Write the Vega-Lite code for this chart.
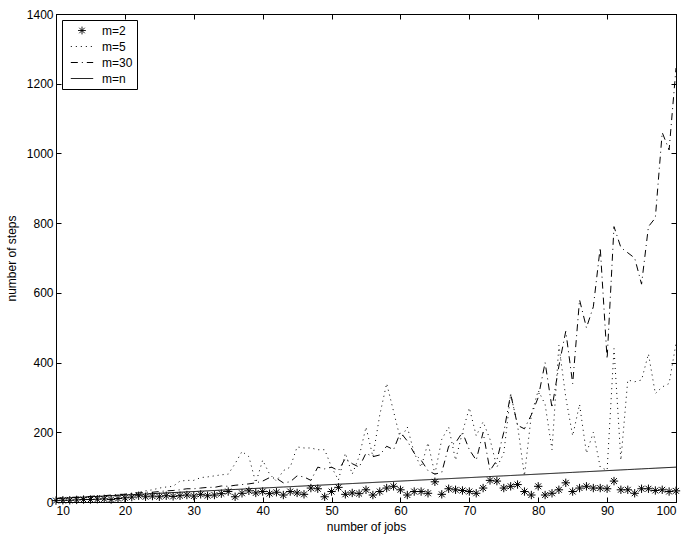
{
  "$schema": "https://vega.github.io/schema/vega-lite/v6.json",
  "width": 620,
  "height": 488,
  "autosize": {"type": "none"},
  "padding": {"left": 56, "top": 14, "right": 16, "bottom": 37},
  "background": "white",
  "config": {
    "font": "Liberation Sans",
    "view": {"stroke": "black", "strokeWidth": 1},
    "axis": {
      "grid": false,
      "domainColor": "black",
      "tickColor": "black",
      "labelColor": "black",
      "titleColor": "black",
      "labelFontSize": 12,
      "titleFontSize": 12,
      "titleFontWeight": "normal",
      "tickSize": -5,
      "labelPadding": 9,
      "format": "d"
    },
    "legend": {
      "labelFontSize": 12,
      "labelColor": "black"
    }
  },
  "data": {
    "values": [
      {"n": 10, "m=2": 4, "m=5": 8, "m=30": 10, "m=n": 10},
      {"n": 11, "m=2": 5, "m=5": 9, "m=30": 12, "m=n": 11},
      {"n": 12, "m=2": 5, "m=5": 10, "m=30": 13, "m=n": 12},
      {"n": 13, "m=2": 6, "m=5": 11, "m=30": 14, "m=n": 13},
      {"n": 14, "m=2": 7, "m=5": 12, "m=30": 15, "m=n": 14},
      {"n": 15, "m=2": 7, "m=5": 13, "m=30": 16, "m=n": 15},
      {"n": 16, "m=2": 8, "m=5": 14, "m=30": 18, "m=n": 16},
      {"n": 17, "m=2": 9, "m=5": 16, "m=30": 18, "m=n": 17},
      {"n": 18, "m=2": 7, "m=5": 18, "m=30": 20, "m=n": 18},
      {"n": 19, "m=2": 10, "m=5": 20, "m=30": 22, "m=n": 19},
      {"n": 20, "m=2": 12, "m=5": 22, "m=30": 22, "m=n": 20},
      {"n": 21, "m=2": 14, "m=5": 25, "m=30": 25, "m=n": 21},
      {"n": 22, "m=2": 18, "m=5": 28, "m=30": 26, "m=n": 22},
      {"n": 23, "m=2": 15, "m=5": 32, "m=30": 28, "m=n": 23},
      {"n": 24, "m=2": 17, "m=5": 35, "m=30": 28, "m=n": 24},
      {"n": 25, "m=2": 15, "m=5": 40, "m=30": 30, "m=n": 25},
      {"n": 26, "m=2": 18, "m=5": 43, "m=30": 32, "m=n": 26},
      {"n": 27, "m=2": 16, "m=5": 45, "m=30": 33, "m=n": 27},
      {"n": 28, "m=2": 18, "m=5": 60, "m=30": 35, "m=n": 28},
      {"n": 29, "m=2": 20, "m=5": 62, "m=30": 38, "m=n": 29},
      {"n": 30, "m=2": 17, "m=5": 62, "m=30": 38, "m=n": 30},
      {"n": 31, "m=2": 22, "m=5": 70, "m=30": 40, "m=n": 31},
      {"n": 32, "m=2": 18, "m=5": 72, "m=30": 42, "m=n": 32},
      {"n": 33, "m=2": 20, "m=5": 75, "m=30": 42, "m=n": 33},
      {"n": 34, "m=2": 24, "m=5": 78, "m=30": 46, "m=n": 34},
      {"n": 35, "m=2": 30, "m=5": 80, "m=30": 45, "m=n": 35},
      {"n": 36, "m=2": 15, "m=5": 110, "m=30": 48, "m=n": 36},
      {"n": 37, "m=2": 25, "m=5": 145, "m=30": 50, "m=n": 37},
      {"n": 38, "m=2": 32, "m=5": 130, "m=30": 52, "m=n": 38},
      {"n": 39, "m=2": 26, "m=5": 55, "m=30": 55, "m=n": 39},
      {"n": 40, "m=2": 30, "m=5": 120, "m=30": 60, "m=n": 40},
      {"n": 41, "m=2": 24, "m=5": 80, "m=30": 70, "m=n": 41},
      {"n": 42, "m=2": 28, "m=5": 60, "m=30": 68, "m=n": 42},
      {"n": 43, "m=2": 20, "m=5": 90, "m=30": 55, "m=n": 43},
      {"n": 44, "m=2": 30, "m=5": 100, "m=30": 58, "m=n": 44},
      {"n": 45, "m=2": 26, "m=5": 158, "m=30": 75, "m=n": 45},
      {"n": 46, "m=2": 22, "m=5": 155, "m=30": 72, "m=n": 46},
      {"n": 47, "m=2": 40, "m=5": 155, "m=30": 62, "m=n": 47},
      {"n": 48, "m=2": 38, "m=5": 150, "m=30": 100, "m=n": 48},
      {"n": 49, "m=2": 15, "m=5": 150, "m=30": 95, "m=n": 49},
      {"n": 50, "m=2": 30, "m=5": 100, "m=30": 100, "m=n": 50},
      {"n": 51, "m=2": 42, "m=5": 63, "m=30": 90, "m=n": 51},
      {"n": 52, "m=2": 22, "m=5": 140, "m=30": 125, "m=n": 52},
      {"n": 53, "m=2": 26, "m=5": 80, "m=30": 110, "m=n": 53},
      {"n": 54, "m=2": 24, "m=5": 130, "m=30": 100, "m=n": 54},
      {"n": 55, "m=2": 35, "m=5": 215, "m=30": 140, "m=n": 55},
      {"n": 56, "m=2": 20, "m=5": 130, "m=30": 130, "m=n": 56},
      {"n": 57, "m=2": 30, "m=5": 250, "m=30": 135, "m=n": 57},
      {"n": 58, "m=2": 40, "m=5": 340, "m=30": 160, "m=n": 58},
      {"n": 59, "m=2": 45, "m=5": 260, "m=30": 150, "m=n": 59},
      {"n": 60, "m=2": 35, "m=5": 180, "m=30": 200, "m=n": 60},
      {"n": 61, "m=2": 20, "m=5": 215, "m=30": 175, "m=n": 61},
      {"n": 62, "m=2": 30, "m=5": 140, "m=30": 140, "m=n": 62},
      {"n": 63, "m=2": 30, "m=5": 100, "m=30": 120, "m=n": 63},
      {"n": 64, "m=2": 25, "m=5": 170, "m=30": 90, "m=n": 64},
      {"n": 65, "m=2": 58, "m=5": 80, "m=30": 80, "m=n": 65},
      {"n": 66, "m=2": 22, "m=5": 180, "m=30": 85, "m=n": 66},
      {"n": 67, "m=2": 38, "m=5": 215, "m=30": 160, "m=n": 67},
      {"n": 68, "m=2": 35, "m=5": 120, "m=30": 170, "m=n": 68},
      {"n": 69, "m=2": 33, "m=5": 200, "m=30": 200, "m=n": 69},
      {"n": 70, "m=2": 30, "m=5": 270, "m=30": 150, "m=n": 70},
      {"n": 71, "m=2": 25, "m=5": 190, "m=30": 120, "m=n": 71},
      {"n": 72, "m=2": 40, "m=5": 230, "m=30": 200, "m=n": 72},
      {"n": 73, "m=2": 62, "m=5": 180, "m=30": 90, "m=n": 73},
      {"n": 74, "m=2": 60, "m=5": 100, "m=30": 120, "m=n": 74},
      {"n": 75, "m=2": 40, "m=5": 140, "m=30": 200, "m=n": 75},
      {"n": 76, "m=2": 45, "m=5": 310, "m=30": 310, "m=n": 76},
      {"n": 77, "m=2": 50, "m=5": 220, "m=30": 220, "m=n": 77},
      {"n": 78, "m=2": 30, "m=5": 75, "m=30": 210, "m=n": 78},
      {"n": 79, "m=2": 20, "m=5": 250, "m=30": 250, "m=n": 79},
      {"n": 80, "m=2": 45, "m=5": 320, "m=30": 300, "m=n": 80},
      {"n": 81, "m=2": 20, "m=5": 280, "m=30": 400, "m=n": 81},
      {"n": 82, "m=2": 25, "m=5": 150, "m=30": 270, "m=n": 82},
      {"n": 83, "m=2": 35, "m=5": 450, "m=30": 390, "m=n": 83},
      {"n": 84, "m=2": 55, "m=5": 300, "m=30": 490, "m=n": 84},
      {"n": 85, "m=2": 30, "m=5": 190, "m=30": 340, "m=n": 85},
      {"n": 86, "m=2": 40, "m=5": 280, "m=30": 580, "m=n": 86},
      {"n": 87, "m=2": 45, "m=5": 140, "m=30": 500, "m=n": 87},
      {"n": 88, "m=2": 40, "m=5": 200, "m=30": 560, "m=n": 88},
      {"n": 89, "m=2": 40, "m=5": 100, "m=30": 730, "m=n": 89},
      {"n": 90, "m=2": 38, "m=5": 91, "m=30": 410, "m=n": 90},
      {"n": 91, "m=2": 60, "m=5": 440, "m=30": 790, "m=n": 91},
      {"n": 92, "m=2": 35, "m=5": 120, "m=30": 730, "m=n": 92},
      {"n": 93, "m=2": 35, "m=5": 350, "m=30": 715, "m=n": 93},
      {"n": 94, "m=2": 25, "m=5": 345, "m=30": 700, "m=n": 94},
      {"n": 95, "m=2": 38, "m=5": 350, "m=30": 625, "m=n": 95},
      {"n": 96, "m=2": 38, "m=5": 425, "m=30": 790, "m=n": 96},
      {"n": 97, "m=2": 33, "m=5": 311, "m=30": 815, "m=n": 97},
      {"n": 98, "m=2": 35, "m=5": 330, "m=30": 1060, "m=n": 98},
      {"n": 99, "m=2": 30, "m=5": 340, "m=30": 1010, "m=n": 99},
      {"n": 100, "m=2": 32, "m=5": 455, "m=30": 1245, "m=n": 100}
    ]
  },
  "transform": [{"fold": ["m=2", "m=5", "m=30", "m=n"], "as": ["series", "v"]}],
  "resolve": {"axis": {"x": "independent", "y": "independent"}},
  "layer": [
    {
      "transform": [{"filter": "datum.series !== 'm=2'"}],
      "mark": {"type": "line", "color": "black", "strokeWidth": 1},
      "encoding": {
        "x": {
          "field": "n", "type": "quantitative",
          "scale": {"domain": [10, 100], "nice": false},
          "axis": {"orient": "bottom", "title": "number of jobs", "values": [10, 20, 30, 40, 50, 60, 70, 80, 90, 100], "titlePadding": 5, "labelPadding": 8}
        },
        "y": {
          "field": "v", "type": "quantitative",
          "scale": {"domain": [0, 1400], "nice": false},
          "axis": {"orient": "left", "title": "number of steps", "values": [0, 200, 400, 600, 800, 1000, 1200, 1400], "titlePadding": 8, "labelPadding": 8}
        },
        "strokeDash": {
          "field": "series", "type": "nominal",
          "scale": {"domain": ["m=2", "m=5", "m=30", "m=n"], "range": [[1, 0], [1, 4], [7, 4, 1, 4], [1, 0]]},
          "legend": {
            "title": null,
            "orient": "none",
            "legendX": 6,
            "legendY": 6,
            "strokeColor": "black",
            "fillColor": "white",
            "padding": 4,
            "rowPadding": 3,
            "clipHeight": 13,
            "symbolOffset": 4,
            "symbolStrokeColor": "black",
            "symbolStrokeWidth": 1,
            "symbolFillColor": "transparent",
            "labelOffset": 8,
            "encode": {"symbols": {"update": {"size": {"signal": "datum.value === 'm=2' ? 60 : 500"}}}}
          }
        }
      }
    },
    {
      "transform": [{"filter": "datum.series === 'm=2'"}],
      "mark": {"type": "point", "filled": false, "color": "black", "strokeWidth": 1, "size": 70, "opacity": 1},
      "encoding": {
        "x": {
          "field": "n", "type": "quantitative",
          "axis": {"orient": "top", "title": null, "labels": false, "values": [10, 20, 30, 40, 50, 60, 70, 80, 90, 100]}
        },
        "y": {
          "field": "v", "type": "quantitative",
          "axis": {"orient": "right", "title": null, "labels": false, "values": [0, 200, 400, 600, 800, 1000, 1200, 1400]}
        },
        "shape": {
          "field": "series", "type": "nominal",
          "scale": {"domain": ["m=2", "m=5", "m=30", "m=n"], "range": ["M0,-1L0,1M-1,0L1,0M-0.7,-0.7L0.7,0.7M-0.7,0.7L0.7,-0.7", "stroke", "stroke", "stroke"]},
          "legend": {
            "title": null,
            "orient": "none",
            "legendX": 6,
            "legendY": 6
          }
        }
      }
    }
  ]
}
